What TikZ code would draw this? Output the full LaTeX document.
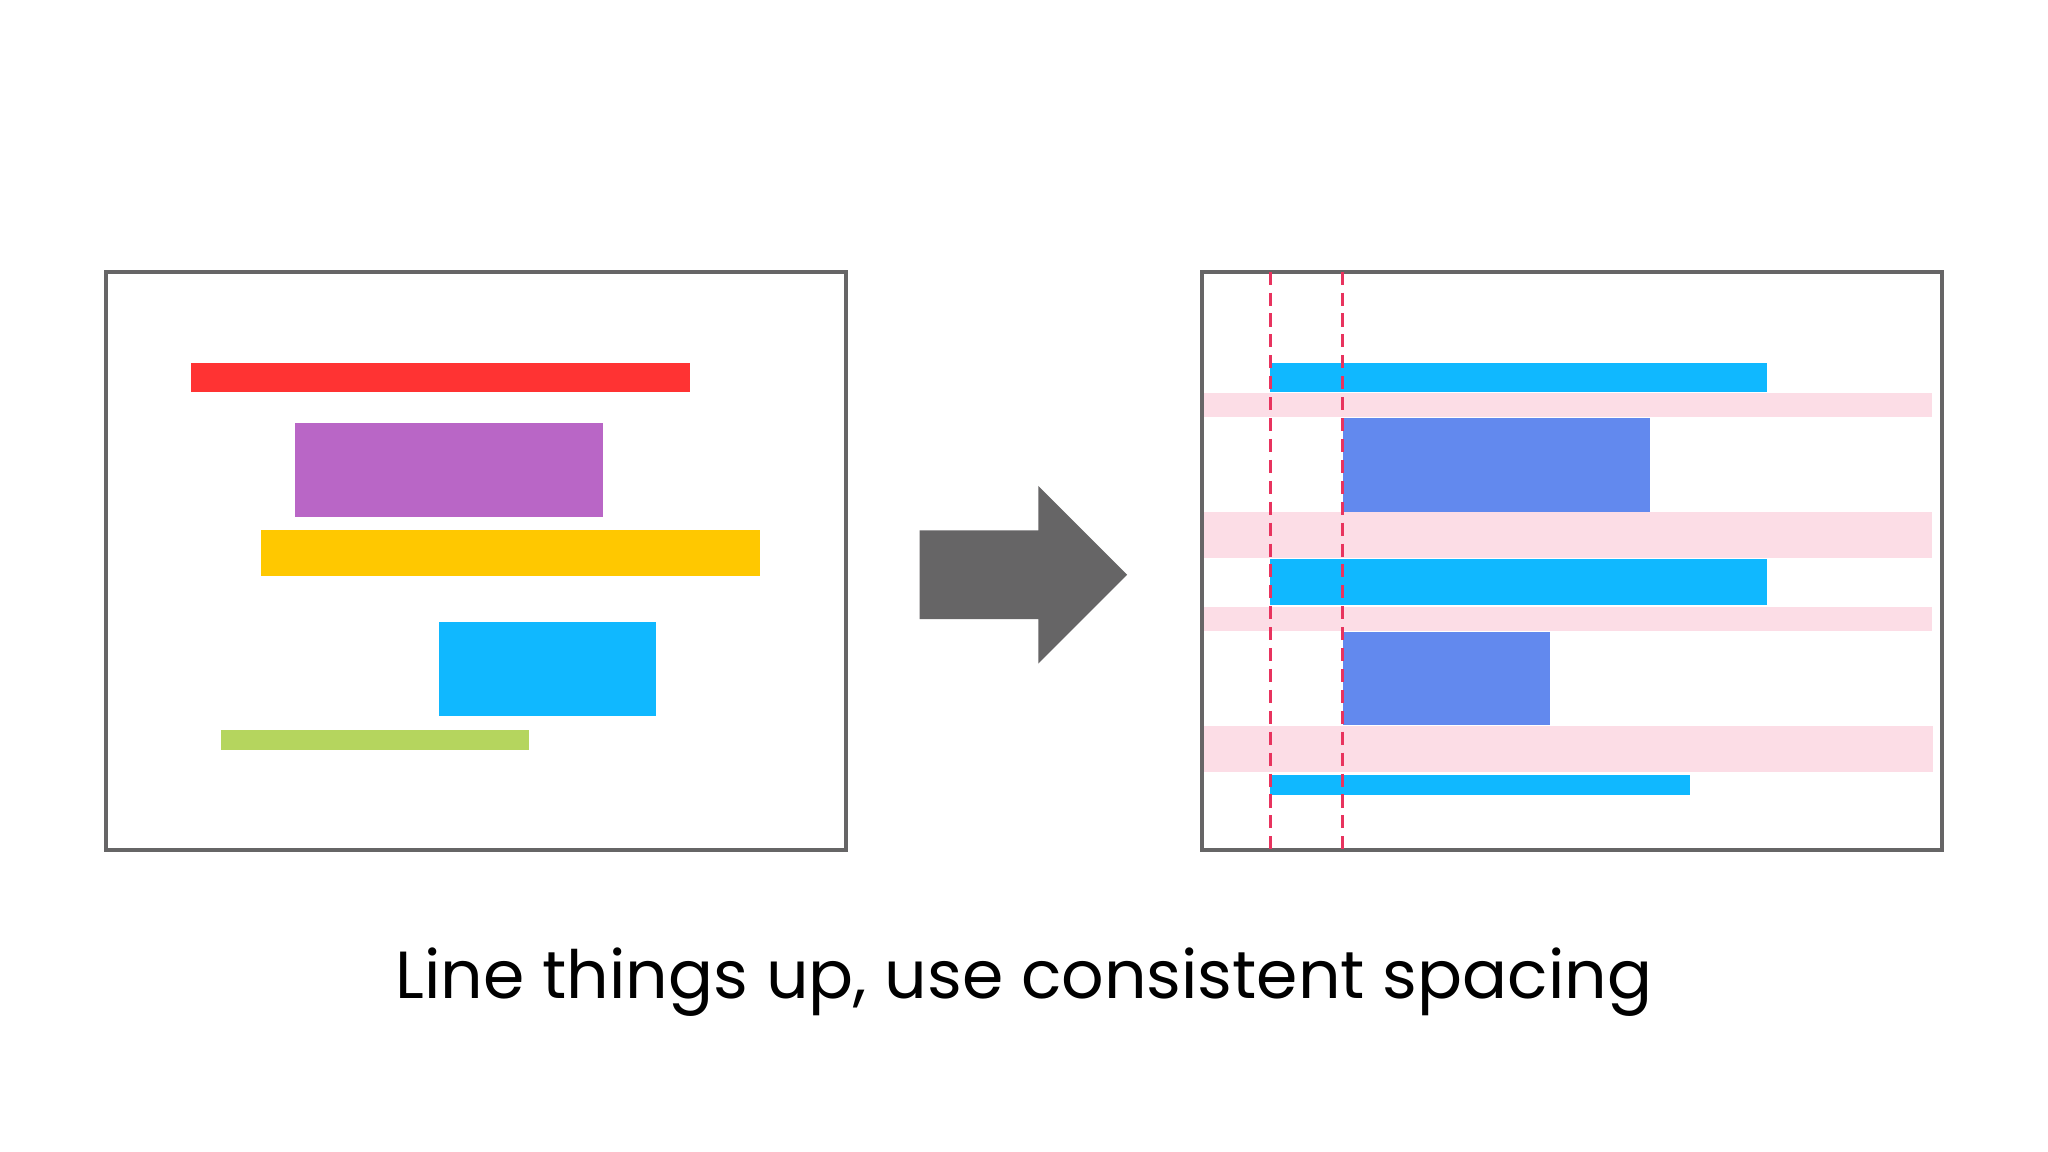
\documentclass[tikz,border=0pt]{standalone}
\usepackage{fontspec}
\setmainfont{Poppins}
\definecolor{frame}{HTML}{666566}
\definecolor{rred}{HTML}{FF3333}
\definecolor{rpur}{HTML}{B966C6}
\definecolor{ryel}{HTML}{FFC800}
\definecolor{rcyan}{HTML}{10B8FF}
\definecolor{rgreen}{HTML}{B5D55E}
\definecolor{rblue}{HTML}{6289EE}
\definecolor{rpink}{HTML}{FCDDE6}
\definecolor{rdash}{HTML}{E8335E}
\begin{document}
\begin{tikzpicture}[x=0.01cm,y=-0.01cm,
  framebox/.style={draw=frame,line width=0.03cm},
  guide/.style={draw=rdash,line width=0.025cm,dash pattern=on 0.1cm off 0.06cm}]
\fill[white] (0,0) rectangle (1568,882);
\useasboundingbox (0,0) rectangle (1568,882);
% left
\draw[framebox] (81,208) rectangle (648,651);
\fill[rred] (146,278) rectangle (528,300);
\fill[rpur] (226,324) rectangle (462,396);
\fill[ryel] (200,406) rectangle (582,441);
\fill[rcyan] (336,476) rectangle (502,548);
\fill[rgreen] (169,559) rectangle (405,574);
% arrow
\fill[frame] (704,406) -- (795,406) -- (795,372) -- (863,440) -- (795,508) -- (795,474) -- (704,474) -- cycle;
% right
\fill[rpink] (922,301) rectangle (1479,319);
\fill[rpink] (922,392) rectangle (1479,427);
\fill[rpink] (922,465) rectangle (1479,483);
\fill[rpink] (922,556) rectangle (1480,591);
\fill[rcyan] (972,278) rectangle (1353,300);
\fill[rcyan] (972,428) rectangle (1353,463);
\fill[rcyan] (972,593) rectangle (1294,609);
\fill[rblue] (1028,320) rectangle (1263,392);
\fill[rblue] (1028,484) rectangle (1187,555);
\draw[framebox] (920,208) rectangle (1487,651);
\draw[guide] (973,208) -- (973,651);
\draw[guide] (1028,208) -- (1028,651);
\node (cap) at (784,752) {\fontsize{14.5}{17}\selectfont Line things up, use consistent spacing};
\end{tikzpicture}
\end{document}
